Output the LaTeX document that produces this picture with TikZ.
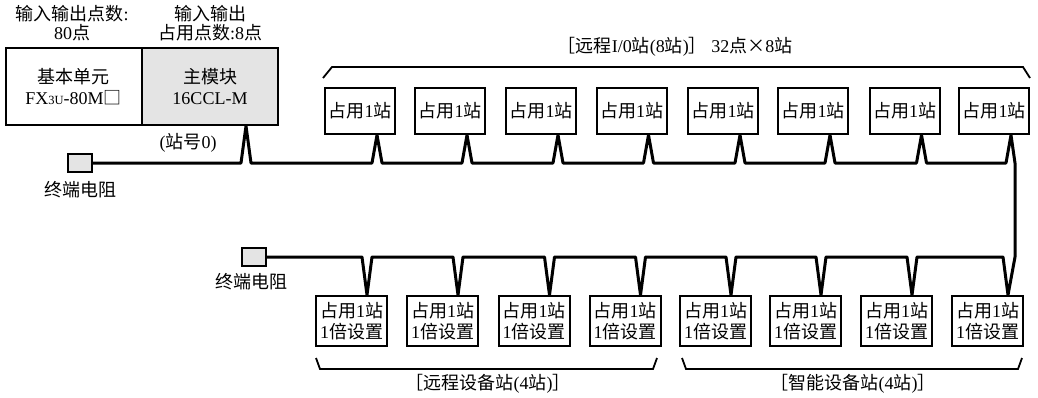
\documentclass[tikz,border=0pt]{standalone}
\usepackage{fontspec}
\setmainfont{Liberation Serif}
\newfontfamily\cjk{Noto Sans CJK SC}
\newcommand\zh[1]{{\cjk #1}}
\usetikzlibrary{calc}
\definecolor{boxgray}{RGB}{228,228,228}
\tikzset{
  txt/.style={inner sep=0pt, align=center, font=\fontsize{18}{19.5}\selectfont},
  unitbox/.style={draw, line width=2pt, inner sep=0pt, align=center, minimum width=136pt, minimum height=77pt, font=\fontsize{18}{21.5}\selectfont},
  iobox/.style={draw, line width=2pt, inner sep=0pt, align=center, minimum width=70pt, minimum height=46pt, font=\fontsize{18}{20}\selectfont},
  devbox/.style={draw, line width=2pt, inner sep=0pt, align=center, minimum width=71pt, minimum height=50pt, font=\fontsize{18}{21}\selectfont},
  termbox/.style={draw, line width=2pt, fill=boxgray, inner sep=0pt, minimum width=24pt, minimum height=18pt},
  bus/.style={line width=3pt, line join=round},
  brace/.style={line width=1.8pt, line join=miter}
}
\begin{document}
\begin{tikzpicture}[x=1pt,y=-1pt]
\useasboundingbox (0,0) rectangle (1038,397);
% top labels
\node[txt] (lab1) at (72,23) {\zh{输入输出点数}:\\80\zh{点}};
\node[txt] (lab2) at (210,23) {\zh{输入输出}\\\zh{占用点数}:8\zh{点}};
% base unit and master
\node[unitbox] (base) at (73.5,86.5) {\zh{基本单元}\\FX{\fontsize{12.5}{12}\selectfont 3U}-80M\zh{□}};
\node[unitbox, fill=boxgray] (m) at (210,86.5) {\zh{主模块}\\16CCL-M};
\node[txt] (st0) at (188,143) {(\zh{站号}0)};
% terminals
\node[termbox] (trA) at (80,163) {};
\node[txt] (trAl) at (80,190) {\zh{终端电阻}};
\node[termbox] (trB) at (254,257) {};
\node[txt] (trBl) at (251,282) {\zh{终端电阻}};
% remote I/O boxes
\foreach \i/\x in {1/360,2/450,3/541,4/631.5,5/723,6/813,7/904.5,8/994}{
  \node[iobox] (t\i) at (\x,111) {\zh{占用}1\zh{站}};
  \coordinate (tt\i) at ($(t\i.south)+(17,0)$);
}
% device boxes
\foreach \i/\x in {1/351.5,2/442.5,3/534,4/625,5/715.5,6/805.5,7/896.5,8/987.5}{
  \node[devbox] (b\i) at (\x,321) {\zh{占用}1\zh{站}\\1\zh{倍设置}};
}
\foreach \i in {1,...,7}{ \coordinate (bt\i) at ($(b\i.north)+(15.5,0)$); }
\coordinate (bt8) at ($(b8.north)+(20.5,0)$);
\coordinate (mtip) at ($(m.south)+(36,0)$);
\coordinate (busA) at (0,163);
\coordinate (busB) at (0,257);
\coordinate (cr) at ($(tt8 |- busA)+(4,0)$);
\coordinate (cb) at (cr |- busB);
% bus lines
\draw[bus] (trA.east) -- ($(mtip |- busA)+(-5,0)$) -- (mtip) -- ($(mtip |- busA)+(5,0)$)
  foreach \i in {1,...,7}{ -- ($(tt\i |- busA)+(-5,0)$) -- (tt\i) -- ($(tt\i |- busA)+(5,0)$) }
  -- ($(tt8 |- busA)+(-5,0)$) -- (tt8) -- (cr) -- (cb) -- (bt8) -- ($(bt8 |- busB)+(-5,0)$)
  foreach \i in {7,6,5,4,3,2,1}{ -- ($(bt\i |- busB)+(5,0)$) -- (bt\i) -- ($(bt\i |- busB)+(-5,0)$) }
  -- (trB.east);
% brackets
\draw[brace] (323,78) -- (332,67) -- (1023,67) -- (1030,78);
\node[txt] (lt) at (675,47) {\zh{［远程}I/0\zh{站}(8\zh{站})\zh{］} 32\zh{点×}8\zh{站}};
\draw[brace] (316,358) -- (320,369) -- (653,369) -- (657,358);
\node[txt] (lb1) at (488,384) {\zh{［远程设备站}(4\zh{站})\zh{］}};
\draw[brace] (682,358) -- (686,369) -- (1018,369) -- (1022,358);
\node[txt] (lb2) at (853,384) {\zh{［智能设备站}(4\zh{站})\zh{］}};
\end{tikzpicture}
\end{document}
